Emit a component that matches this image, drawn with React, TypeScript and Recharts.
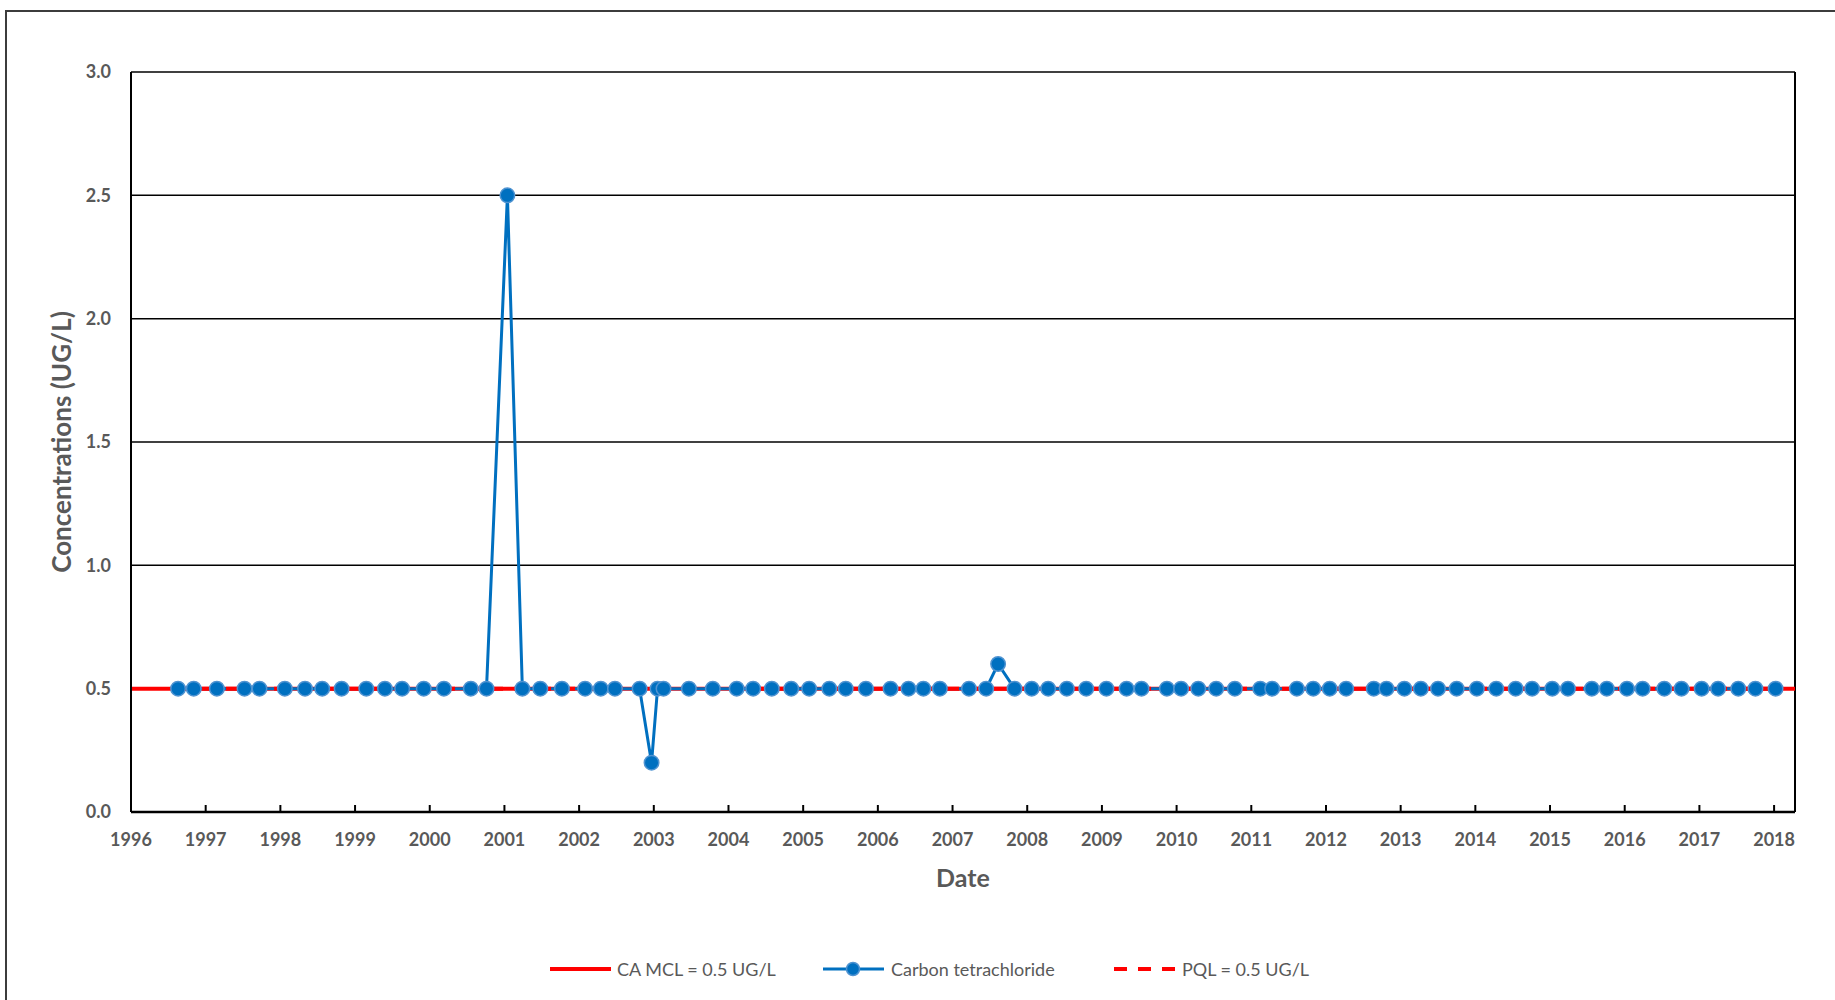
import React from 'react'
import { CartesianGrid, Line, LineChart, ReferenceLine, XAxis, YAxis } from 'recharts'

// sample dates in decimal years
const sampleDates = [
  1996.63, 1996.84, 1997.15, 1997.52, 1997.72, 1998.06, 1998.33, 1998.56, 1998.82, 1999.15,
  1999.40, 1999.63, 1999.92, 2000.19, 2000.55, 2000.76, 2001.04, 2001.24, 2001.48, 2001.77,
  2002.08, 2002.29, 2002.48, 2002.81, 2002.97, 2003.05, 2003.13, 2003.47, 2003.79, 2004.11,
  2004.33, 2004.58, 2004.84, 2005.08, 2005.35, 2005.57, 2005.84, 2006.17, 2006.41, 2006.61,
  2006.83, 2007.22, 2007.45, 2007.61, 2007.83, 2008.06, 2008.28, 2008.53, 2008.79, 2009.06,
  2009.33, 2009.53, 2009.87, 2010.06, 2010.29, 2010.53, 2010.78, 2011.12, 2011.28, 2011.61,
  2011.83, 2012.05, 2012.27, 2012.64, 2012.81, 2013.05, 2013.27, 2013.50, 2013.75, 2014.02,
  2014.28, 2014.54, 2014.76, 2015.03, 2015.24, 2015.56, 2015.76, 2016.03, 2016.24, 2016.53,
  2016.76, 2017.03, 2017.25, 2017.52, 2017.75, 2018.02,
]

const carbonTet = [
  0.5, 0.5, 0.5, 0.5, 0.5, 0.5, 0.5, 0.5, 0.5, 0.5,
  0.5, 0.5, 0.5, 0.5, 0.5, 0.5, 2.5, 0.5, 0.5, 0.5,
  0.5, 0.5, 0.5, 0.5, 0.2, 0.5, 0.5, 0.5, 0.5, 0.5,
  0.5, 0.5, 0.5, 0.5, 0.5, 0.5, 0.5, 0.5, 0.5, 0.5,
  0.5, 0.5, 0.5, 0.6, 0.5, 0.5, 0.5, 0.5, 0.5, 0.5,
  0.5, 0.5, 0.5, 0.5, 0.5, 0.5, 0.5, 0.5, 0.5, 0.5,
  0.5, 0.5, 0.5, 0.5, 0.5, 0.5, 0.5, 0.5, 0.5, 0.5,
  0.5, 0.5, 0.5, 0.5, 0.5, 0.5, 0.5, 0.5, 0.5, 0.5,
  0.5, 0.5, 0.5, 0.5, 0.5, 0.5,
]

const yearTicks = [1996, 1997, 1998, 1999, 2000, 2001, 2002, 2003, 2004, 2005, 2006, 2007,
  2008, 2009, 2010, 2011, 2012, 2013, 2014, 2015, 2016, 2017, 2018]
const concTicks = [0, 0.5, 1, 1.5, 2, 2.5, 3]

const xMin = 1996
const xMax = 2018.28
const caMcl = 0.5
const pql = 0.5

const seriesData = sampleDates.map((d, i) => ({ date: d, value: carbonTet[i] }))
const mclData = [{ date: xMin, value: caMcl }, { date: xMax, value: caMcl }]
const pqlData = [
  { date: sampleDates[0], value: pql },
  { date: sampleDates[sampleDates.length - 1], value: pql },
]

const FONT = 'Lato, "Open Sans", sans-serif'
const GRAY = '#595959'
const BLUE = '#0070C0'
const RED = '#FF0000'

const XTick = (props: any) => {
  const { x, y, payload } = props
  return (
    <g>
      <line x1={x} x2={x} y1={y} y2={y - 7} stroke="#000" strokeWidth={2} />
      <text x={x} y={y + 34} textAnchor="middle" fill={GRAY} fontFamily={FONT} fontWeight={700} fontSize={18}>
        {payload.value}
      </text>
    </g>
  )
}

const YLabel = (props: any) => {
  const vb = props.viewBox || {}
  const cy = vb.y + vb.height / 2
  return (
    <text x={61} y={cy} transform={`rotate(-90 61 ${cy})`} textAnchor="middle" dominantBaseline="central"
      fill={GRAY} fontFamily={FONT} fontWeight={700} fontSize={26}>
      Concentrations (UG/L)
    </text>
  )
}

const XLabel = (props: any) => {
  const vb = props.viewBox || {}
  const cx = vb.x + vb.width / 2
  return (
    <text x={cx} y={887} textAnchor="middle" fill={GRAY} fontFamily={FONT} fontWeight={700} fontSize={25}>
      Date
    </text>
  )
}

const legendText: React.CSSProperties = {
  position: 'absolute', top: 969, transform: 'translateY(-50%)', fontSize: 18,
  color: GRAY, fontFamily: FONT, whiteSpace: 'nowrap', lineHeight: 1,
}

const ChartLegend = () => (
  <>
    <svg style={{ position: 'absolute', left: 0, top: 0 }} width={1835} height={1000}>
      <line x1={550} x2={611} y1={969} y2={969} stroke={RED} strokeWidth={4} />
      <line x1={823} x2={884} y1={969} y2={969} stroke={BLUE} strokeWidth={3} />
      <circle cx={853} cy={969} r={6.5} fill={BLUE} stroke="#4f93d1" strokeWidth={1.5} />
      <line x1={1114} x2={1176} y1={969} y2={969} stroke={RED} strokeWidth={4} strokeDasharray="13 11" />
    </svg>
    <span style={{ ...legendText, left: 617 }}>CA MCL = 0.5 UG/L</span>
    <span style={{ ...legendText, left: 891 }}>Carbon tetrachloride</span>
    <span style={{ ...legendText, left: 1182 }}>PQL = 0.5 UG/L</span>
  </>
)

export default function App() {
  return (
    <div style={{ position: 'fixed', left: 0, top: 0, width: 1835, height: 1000, overflow: 'hidden', background: '#fff' }}>
      <div style={{ position: 'absolute', left: 5, top: 10, width: 1840, height: 1000, border: '2px solid #3c3c3c' }} />
      <div style={{ position: 'absolute', left: 0, top: 0 }}>
        <LineChart width={1835} height={1000} margin={{ top: 72, right: 40, bottom: 0, left: 0 }}>
          <CartesianGrid horizontal vertical={false} stroke="#000" strokeWidth={1.5} strokeOpacity={1} />
          <XAxis
            type="number"
            dataKey="date"
            domain={[xMin, xMax]}
            ticks={yearTicks}
            interval={0}
            height={188}
            tickSize={0}
            tickMargin={0}
            tickLine={false}
            tick={<XTick />}
            axisLine={{ stroke: '#000', strokeWidth: 2.5 }}
            label={<XLabel />}
            allowDataOverflow
          />
          <YAxis
            type="number"
            domain={[0, 3]}
            ticks={concTicks}
            interval={0}
            width={131}
            tickSize={0}
            tickMargin={20}
            tickLine={false}
            tickFormatter={(v: number) => v.toFixed(1)}
            tick={{ fill: GRAY, fontFamily: FONT, fontWeight: 700, fontSize: 18 }}
            axisLine={{ stroke: '#000', strokeWidth: 2 }}
            label={<YLabel />}
            allowDataOverflow
          />
          <ReferenceLine x={xMax} stroke="#000" strokeWidth={2} />
          <Line data={mclData} dataKey="value" stroke={RED} strokeWidth={4} dot={false}
            isAnimationActive={false} legendType="none" />
          <Line data={seriesData} dataKey="value" type="linear" stroke={BLUE} strokeWidth={3}
            dot={{ r: 7.25, fill: BLUE, stroke: '#4f93d1', strokeWidth: 1.5 }} activeDot={false}
            isAnimationActive={false} />
          <Line data={pqlData} dataKey="value" stroke={RED} strokeWidth={4} strokeDasharray="13 11"
            dot={false} isAnimationActive={false} legendType="none" />
        </LineChart>
      </div>
      <ChartLegend />
    </div>
  )
}
